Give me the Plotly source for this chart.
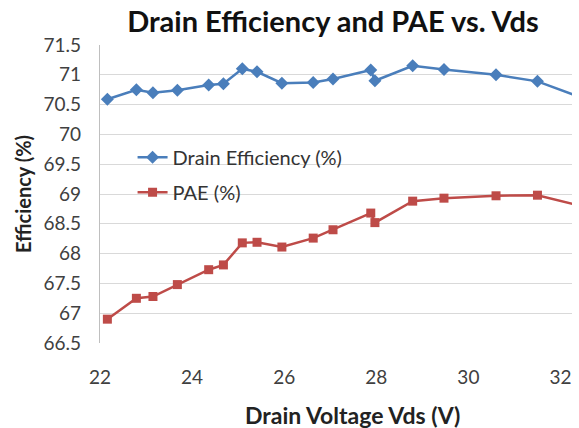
import plotly.graph_objects as go

vds = [22.16, 22.79, 23.15, 23.68, 24.36, 24.68, 25.09, 25.41, 25.95, 26.63,
       27.06, 27.88, 27.97, 28.79, 29.47, 30.60, 31.50, 33.0]
drain_eff = [70.59, 70.75, 70.70, 70.74, 70.83, 70.85, 71.10, 71.05, 70.86, 70.87,
             70.93, 71.08, 70.90, 71.15, 71.09, 71.00, 70.89, 70.46]
pae = [66.90, 67.25, 67.28, 67.48, 67.73, 67.81, 68.18, 68.19, 68.11, 68.26,
       68.40, 68.68, 68.52, 68.88, 68.93, 68.97, 68.98, 68.69]

x_ticks = [22, 24, 26, 28, 30, 32]
y_ticks = [66.5, 67, 67.5, 68, 68.5, 69, 69.5, 70, 70.5, 71, 71.5]
y_ticktext = ["66.5", "67", "67.5", "68", "68.5", "69", "69.5", "70", "70.5", "71", "71.5"]

FONT = "Lato"
fig = go.Figure()
fig.add_trace(go.Scatter(
    x=vds, y=drain_eff, mode="lines+markers", name="Drain Efficiency (%)",
    legendgroup="a",
    line=dict(color="#4A7EBB", width=2.5),
    marker=dict(symbol="diamond", size=10, color="#4A7EBB"),
))
fig.add_trace(go.Scatter(
    x=vds, y=pae, mode="lines+markers", name="PAE (%)",
    legendgroup="b",
    line=dict(color="#BE4B48", width=2.5),
    marker=dict(symbol="square", size=9, color="#BE4B48"),
))

fig.update_layout(
    width=579, height=428,
    margin=dict(l=100, r=7, t=45, b=85),
    paper_bgcolor="white", plot_bgcolor="white",
    font=dict(family=FONT, color="#404040", size=18),
    title=dict(text="<b>Drain Efficiency and PAE vs. Vds</b>",
               x=0.575, xanchor="center", y=0.949, yanchor="middle",
               font=dict(family=FONT, size=29, color="#111111")),
    legend=dict(x=0.069, y=0.689, xanchor="left", yanchor="top",
                bgcolor="rgba(0,0,0,0)", tracegroupgap=6,
                traceorder="grouped",
                font=dict(family=FONT, size=20, color="#333333")),
    showlegend=True,
    annotations=[dict(text="<b>Drain Voltage Vds (V)</b>", xref="paper", yref="paper",
                      x=0.534, y=0, xanchor="center", yanchor="middle", yshift=-72,
                      showarrow=False,
                      font=dict(family=FONT, size=23, color="#222222"))],
)
fig.update_xaxes(
    range=[22, 32.25], tickvals=x_ticks, showgrid=False, zeroline=False,
    showline=False, ticks="", tickfont=dict(size=19, color="#404040"),
    ticklabelstandoff=21, automargin=False,
)
fig.update_yaxes(
    range=[66.5, 71.5], tickvals=y_ticks, ticktext=y_ticktext,
    showgrid=True, gridcolor="#D9D9D9", gridwidth=1.3, zeroline=False,
    showline=True, linecolor="#BFBFBF", linewidth=1.3, ticks="",
    tickfont=dict(size=19, color="#404040"), ticklabelstandoff=14,
    automargin=False,
    title=dict(text="<b>Efficiency (%)</b>", standoff=6,
               font=dict(family=FONT, size=20, color="#222222")),
)
fig.write_html("out.html", config={"displayModeBar": False},
               post_script="document.body.style.margin='0';")
